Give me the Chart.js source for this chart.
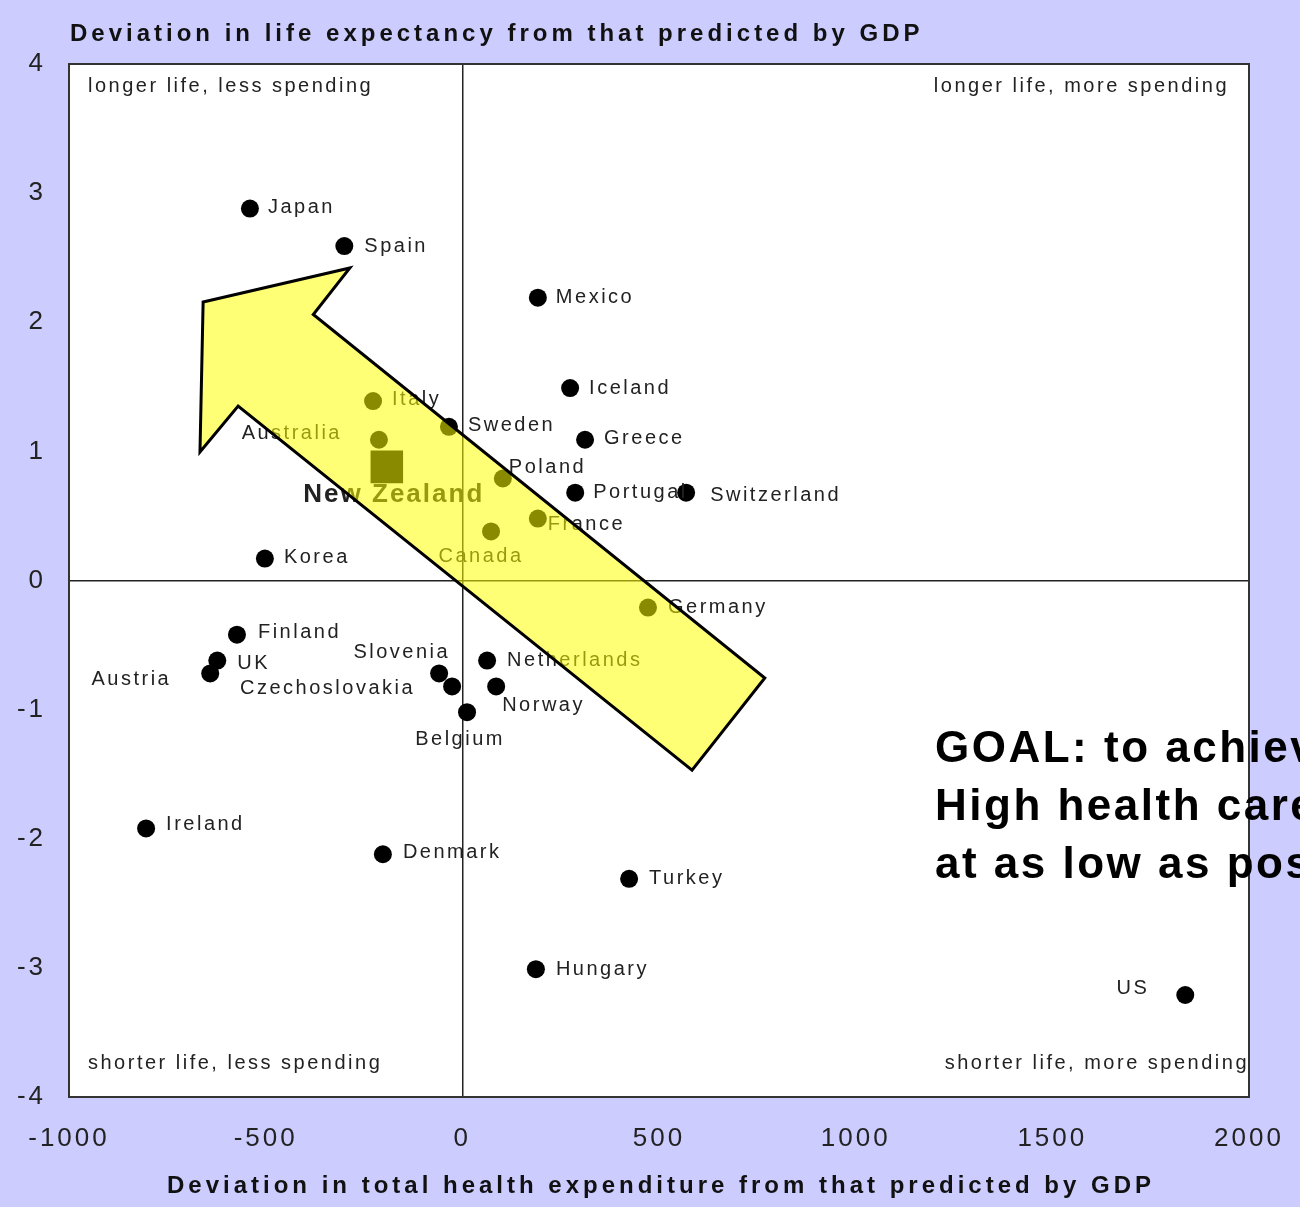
<!DOCTYPE html>
<html>
<head>
<meta charset="utf-8">
<script src="https://cdn.jsdelivr.net/npm/chart.js@4.4.1/dist/chart.umd.min.js"></script>
<style>
  body { margin: 0; background: #ccccff; }
  canvas { display: block; }
</style>
</head>
<body>
<canvas id="chart" width="1300" height="1207"></canvas>
<script>
// --- data ---
const countries = ['Japan', 'Spain', 'Mexico', 'Iceland', 'Italy', 'Sweden', 'Australia', 'Greece',
  'Poland', 'Portugal', 'Switzerland', 'France', 'Canada', 'Korea', 'Germany', 'Finland', 'UK',
  'Austria', 'Slovenia', 'Czechoslovakia', 'Netherlands', 'Norway', 'Belgium', 'Ireland',
  'Denmark', 'Turkey', 'Hungary', 'US'];
const spendDev = [-540, -300, 192, 274, -227, -34, -212, 312,
  103, 287, 569, 192, 73, -502, 472, -573, -623,
  -641, -59, -26, 63, 86, 12, -804,
  -202, 424, 187, 1838];
const lifeDev = [2.88, 2.59, 2.19, 1.49, 1.39, 1.19, 1.09, 1.09,
  0.79, 0.68, 0.68, 0.48, 0.38, 0.17, -0.21, -0.42, -0.62,
  -0.72, -0.72, -0.82, -0.62, -0.82, -1.02, -1.92,
  -2.12, -2.31, -3.01, -3.21];

// highlighted country (square marker)
const nzName = 'New Zealand';
const nzSpend = [-192];
const nzLife = [0.88];

const xTicks = [-1000, -500, 0, 500, 1000, 1500, 2000];
const yTicks = [-4, -3, -2, -1, 0, 1, 2, 3, 4];

// arrow outline in data units
const arrowX = [-659, -286, -379, 769, 584, -570, -667];
const arrowY = [2.157, 2.42, 2.06, -0.755, -1.468, 1.351, 0.995];

const titleText = 'Deviation in life expectancy from that predicted by GDP';
const xTitleText = 'Deviation in total health expenditure from that predicted by GDP';
const quadrants = ['longer life, less spending', 'longer life, more spending',
  'shorter life, less spending', 'shorter life, more spending'];
const goalLines = ['GOAL: to achieve', 'High health care', 'at as low as possible cost'];

// label placement next to each point (pixels)
const labelPos = {
  Japan: [18, -1, 'left'], Spain: [20, 0, 'left'], Mexico: [18, 0, 'left'],
  Iceland: [19, 0, 'left'], Italy: [19, -2, 'left'], Sweden: [19, -1, 'left'],
  Australia: [-37, -6, 'right'], Greece: [19, -1, 'left'], Poland: [6, -11, 'left'],
  Portugal: [18, 0, 'left'], Switzerland: [24, 3, 'left'], France: [10, 6, 'left'],
  Canada: [-10, 25, 'center'], Korea: [19, -1, 'left'], Germany: [20, 0, 'left'],
  Finland: [21, -2, 'left'], UK: [20, 3, 'left'], Austria: [-39, 6, 'right'],
  Slovenia: [11, -21, 'right'], Czechoslovakia: [-37, 2, 'right'], Netherlands: [20, 0, 'left'],
  Norway: [6, 19, 'left'], Belgium: [-7, 27, 'center'], Ireland: [20, -4, 'left'],
  Denmark: [20, -2, 'left'], Turkey: [20, 0, 'left'], Hungary: [20, 0, 'left'],
  US: [-36, -7, 'right']
};

const FONT = '"Liberation Sans", Arial, sans-serif';

const decorPlugin = {
  id: 'decor',
  beforeDraw(chart) {
    const { ctx, chartArea: a } = chart;
    ctx.letterSpacing = '3px';
    ctx.save();
    ctx.fillStyle = '#ffffff';
    ctx.fillRect(a.left, a.top, a.right - a.left, a.bottom - a.top);
    ctx.restore();
  },
  afterDatasetsDraw(chart) {
    const { ctx, chartArea: a, scales: { x, y } } = chart;
    ctx.save();

    // country labels
    ctx.fillStyle = '#222';
    ctx.font = '20px ' + FONT;
    ctx.letterSpacing = '2.5px';
    ctx.textBaseline = 'middle';
    countries.forEach((name, i) => {
      const p = labelPos[name];
      ctx.textAlign = p[2];
      ctx.fillText(name, x.getPixelForValue(spendDev[i]) + p[0], y.getPixelForValue(lifeDev[i]) + p[1]);
    });
    ctx.font = 'bold 26px ' + FONT;
    ctx.letterSpacing = '2px';
    ctx.textAlign = 'center';
    ctx.fillText(nzName, x.getPixelForValue(nzSpend[0]) + 7, y.getPixelForValue(nzLife[0]) + 28);

    // quadrant notes
    ctx.font = '20px ' + FONT;
    ctx.letterSpacing = '2.5px';
    ctx.textAlign = 'left';
    ctx.fillText(quadrants[0], a.left + 19, a.top + 22);
    ctx.fillText(quadrants[2], a.left + 19, a.bottom - 34);
    ctx.textAlign = 'right';
    ctx.fillText(quadrants[1], a.right - 20, a.top + 22);
    ctx.fillText(quadrants[3], a.right, a.bottom - 34);

    // big arrow
    ctx.beginPath();
    arrowX.forEach((v, i) => {
      const px = x.getPixelForValue(v), py = y.getPixelForValue(arrowY[i]);
      if (i === 0) ctx.moveTo(px, py); else ctx.lineTo(px, py);
    });
    ctx.closePath();
    ctx.fillStyle = 'rgba(255,255,0,0.54)';
    ctx.fill();
    ctx.lineWidth = 3;
    ctx.strokeStyle = '#000';
    ctx.lineJoin = 'miter';
    ctx.stroke();

    // plot frame
    ctx.lineWidth = 2;
    ctx.strokeStyle = '#333';
    ctx.strokeRect(a.left, a.top, a.right - a.left, a.bottom - a.top);

    // axis titles
    ctx.fillStyle = '#111';
    ctx.font = 'bold 24px ' + FONT;
    ctx.letterSpacing = '4px';
    ctx.textAlign = 'left';
    ctx.fillText(titleText, 70, 34);
    ctx.textAlign = 'center';
    ctx.fillText(xTitleText, (a.left + a.right) / 2 + 2, 1186);

    // goal note
    ctx.fillStyle = '#000';
    ctx.font = 'bold 44px ' + FONT;
    ctx.letterSpacing = '2.5px';
    ctx.textAlign = 'left';
    ctx.textBaseline = 'alphabetic';
    goalLines.forEach((t, i) => ctx.fillText(t, 935, 762 + i * 58));

    ctx.restore();
  }
};

const zeroLine = c => (c.tick && c.tick.value === 0 ? '#222' : 'rgba(0,0,0,0)');

new Chart(document.getElementById('chart'), {
  type: 'scatter',
  data: {
    datasets: [
      {
        data: countries.map((n, i) => ({ x: spendDev[i], y: lifeDev[i] })),
        backgroundColor: '#000', borderWidth: 0, pointRadius: 9, pointHoverRadius: 9
      },
      {
        data: nzSpend.map((v, i) => ({ x: v, y: nzLife[i] })),
        pointStyle: 'rect', backgroundColor: '#000', borderWidth: 0, pointRadius: 23, pointHoverRadius: 23
      }
    ]
  },
  options: {
    responsive: false,
    animation: false,
    events: [],
    layout: { padding: { top: 64, right: 51, left: 0, bottom: 0 } },
    plugins: { legend: { display: false }, tooltip: { enabled: false } },
    scales: {
      x: {
        min: xTicks[0], max: xTicks[xTicks.length - 1],
        afterBuildTicks: s => { s.ticks = xTicks.map(v => ({ value: v })); },
        afterFit: s => { s.height = 110; s.paddingLeft = 0; s.paddingRight = 0; },
        ticks: { color: '#222', padding: 26, font: { family: FONT, size: 26 }, callback: v => String(v) },
        grid: { color: zeroLine, lineWidth: 1.5, drawTicks: false },
        border: { display: false }
      },
      y: {
        min: yTicks[0], max: yTicks[yTicks.length - 1],
        afterBuildTicks: s => { s.ticks = yTicks.map(v => ({ value: v })); },
        afterFit: s => { s.width = 69; s.paddingTop = 0; s.paddingBottom = 0; },
        ticks: { color: '#222', padding: 23, font: { family: FONT, size: 26 }, callback: v => String(v) },
        grid: { color: zeroLine, lineWidth: 1.5, drawTicks: false },
        border: { display: false }
      }
    }
  },
  plugins: [decorPlugin]
});
</script>
</body>
</html>
